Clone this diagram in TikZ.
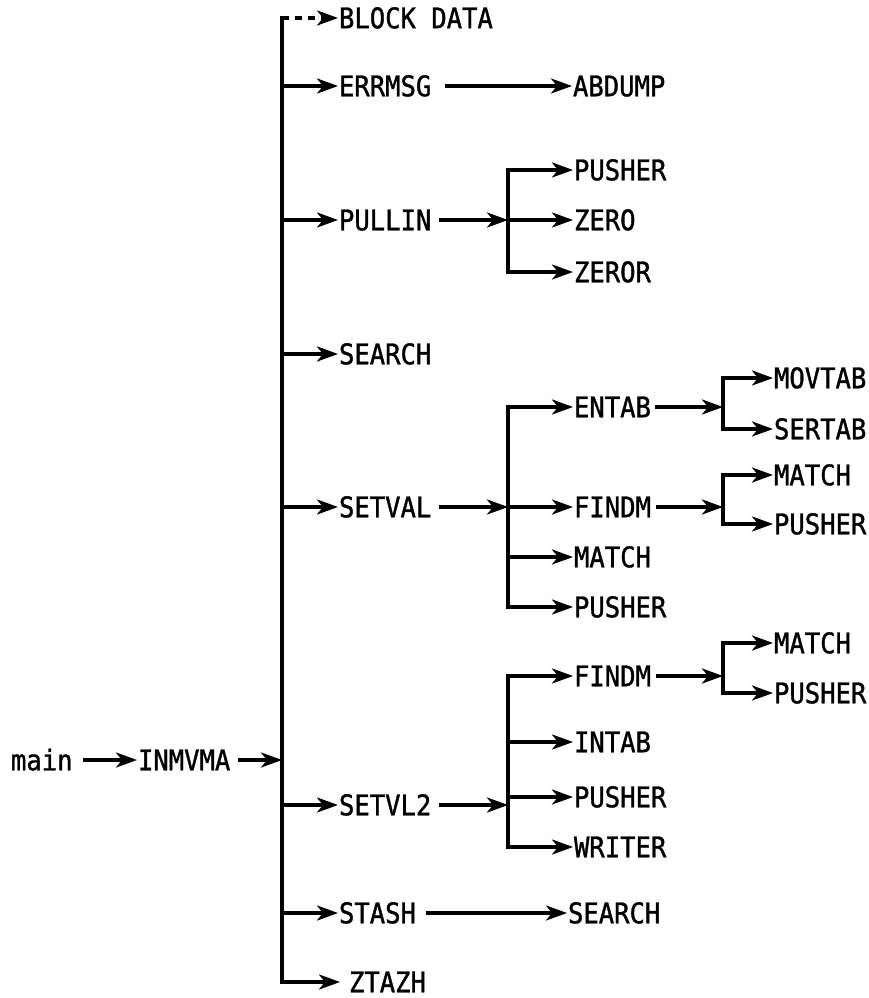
\documentclass[tikz,border=0pt]{standalone}
\usepackage{fontspec}
\setmonofont{DejaVu Sans Mono}[FakeStretch=0.9,FakeBold=1.2]
\usetikzlibrary{arrows.meta}
\begin{document}
\begin{tikzpicture}[x=1pt,y=-1pt,
  lbl/.style={anchor=west,inner sep=0pt,outer sep=1pt,text height=20.5pt,text depth=0pt,
              font=\ttfamily\fontsize{28.4pt}{32pt}\selectfont},
  ln/.style={line width=3.3pt},
  busline/.style={ln,line cap=rect},
  arr/.style={ln,-{Stealth[length=21pt,width=15pt,inset=6pt]}},
  dasharr/.style={arr,dash pattern=on 7pt off 6pt}
]
\useasboundingbox (0,0) rectangle (869,998);

\coordinate (bus) at (282,0);
\coordinate (b1) at (508,0);
\coordinate (b2) at (723,0);

\node[lbl] (main) at (10,760) {main};
\node[lbl] (inm) at (137,760) {INMVMA};

\node[lbl] (bd) at (338,18) {BLOCK DATA};
\node[lbl] (err) at (338,86) {ERRMSG};
\node[lbl] (abd) at (572,86) {ABDUMP};
\node[lbl] (pull) at (338,220) {PULLIN};
\node[lbl] (push1) at (573,170) {PUSHER};
\node[lbl] (zero) at (573,220) {ZERO};
\node[lbl] (zeror) at (573,272) {ZEROR};
\node[lbl] (srch) at (338,354) {SEARCH};
\node[lbl] (setval) at (338,507) {SETVAL};
\node[lbl] (entab) at (573,407) {ENTAB};
\node[lbl] (movtab) at (773,378) {MOVTAB};
\node[lbl] (sertab) at (773,429) {SERTAB};
\node[lbl] (findm1) at (573,507) {FINDM};
\node[lbl] (match1) at (773,475) {MATCH};
\node[lbl] (push2) at (773,524) {PUSHER};
\node[lbl] (match2) at (573,557) {MATCH};
\node[lbl] (push3) at (573,607) {PUSHER};
\node[lbl] (findm2) at (573,676) {FINDM};
\node[lbl] (match3) at (773,643) {MATCH};
\node[lbl] (push4) at (773,693) {PUSHER};
\node[lbl] (intab) at (573,742) {INTAB};
\node[lbl] (push5) at (573,797) {PUSHER};
\node[lbl] (writer) at (573,847) {WRITER};
\node[lbl] (setvl2) at (338,805) {SETVL2};
\node[lbl] (stash) at (338,913) {STASH};
\node[lbl] (srch2) at (567,913) {SEARCH};
\node[lbl] (ztazh) at (348,982) {ZTAZH};

% main -> INMVMA -> bus
\draw[arr,shorten <=9pt] (main.east) -- (inm.west);
\draw[arr,shorten <=7pt] (inm.east) -- (bus |- inm.east);

% main bus
\draw[busline] (bus |- bd.west) -- (bus |- ztazh.west);
\draw[dasharr] (bus |- bd.west) -- (bd.west);
\draw[arr] (bus |- err.west) -- (err.west);
\draw[arr] (bus |- pull.west) -- (pull.west);
\draw[arr] (bus |- srch.west) -- (srch.west);
\draw[arr] (bus |- setval.west) -- (setval.west);
\draw[arr] (bus |- setvl2.west) -- (setvl2.west);
\draw[arr] (bus |- stash.west) -- (stash.west);
\draw[arr] (bus |- ztazh.west) -- ([xshift=-8pt]ztazh.west);

% ERRMSG
\draw[arr,shorten <=13pt] (err.east) -- (abd.west);

% PULLIN
\draw[arr,shorten <=7pt] (pull.east) -- (b1 |- pull.east);
\draw[busline] (b1 |- push1.west) -- (b1 |- zeror.west);
\draw[arr] (b1 |- push1.west) -- (push1.west);
\draw[arr] (b1 |- zero.west) -- (zero.west);
\draw[arr] (b1 |- zeror.west) -- (zeror.west);

% SETVAL
\draw[arr,shorten <=7pt] (setval.east) -- (b1 |- setval.east);
\draw[busline] (b1 |- entab.west) -- (b1 |- push3.west);
\draw[arr] (b1 |- entab.west) -- (entab.west);
\draw[arr] (b1 |- findm1.west) -- (findm1.west);
\draw[arr] (b1 |- match2.west) -- (match2.west);
\draw[arr] (b1 |- push3.west) -- (push3.west);

% ENTAB
\draw[arr,shorten <=3pt] (entab.east) -- (b2 |- entab.east);
\draw[busline] (b2 |- movtab.west) -- (b2 |- sertab.west);
\draw[arr] (b2 |- movtab.west) -- (movtab.west);
\draw[arr] (b2 |- sertab.west) -- (sertab.west);

% FINDM (under SETVAL)
\draw[arr,shorten <=4pt] (findm1.east) -- (b2 |- findm1.east);
\draw[busline] (b2 |- match1.west) -- (b2 |- push2.west);
\draw[arr] (b2 |- match1.west) -- (match1.west);
\draw[arr] (b2 |- push2.west) -- (push2.west);

% SETVL2
\draw[arr,shorten <=7pt] (setvl2.east) -- (b1 |- setvl2.east);
\draw[busline] (b1 |- findm2.west) -- (b1 |- writer.west);
\draw[arr] (b1 |- findm2.west) -- (findm2.west);
\draw[arr] (b1 |- intab.west) -- (intab.west);
\draw[arr] (b1 |- push5.west) -- (push5.west);
\draw[arr] (b1 |- writer.west) -- (writer.west);

% FINDM (under SETVL2)
\draw[arr,shorten <=4pt] (findm2.east) -- (b2 |- findm2.east);
\draw[busline] (b2 |- match3.west) -- (b2 |- push4.west);
\draw[arr] (b2 |- match3.west) -- (match3.west);
\draw[arr] (b2 |- push4.west) -- (push4.west);

% STASH
\draw[arr,shorten <=9pt] (stash.east) -- (srch2.west);
\end{tikzpicture}
\end{document}
